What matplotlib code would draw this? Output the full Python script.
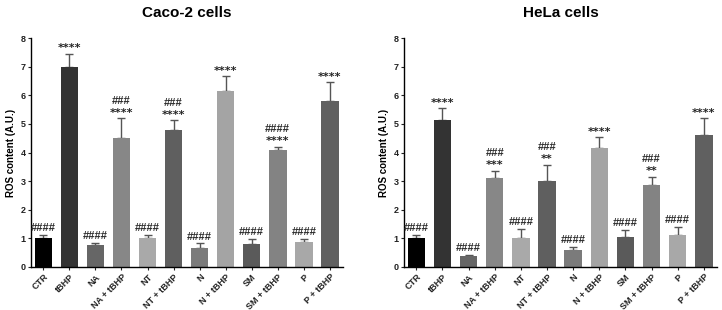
import matplotlib
matplotlib.use("Agg")
import matplotlib.pyplot as plt

plt.rcParams['font.family'] = ['Liberation Sans', 'DejaVu Sans']

categories = ["CTR", "tBHP", "NA", "NA + tBHP", "NT", "NT + tBHP", "N", "N + tBHP",
              "SM", "SM + tBHP", "P", "P + tBHP"]
colors = ["#000000", "#333333", "#666666", "#878787", "#a9a9a9", "#5f5f5f",
          "#7b7b7b", "#a4a4a4", "#5a5a5a", "#838383", "#a8a8a8", "#606060"]

caco_values = [1.0, 7.0, 0.75, 4.52, 1.02, 4.8, 0.65, 6.15, 0.8, 4.08, 0.88, 5.8]
caco_errors = [0.13, 0.45, 0.1, 0.68, 0.1, 0.32, 0.17, 0.52, 0.18, 0.13, 0.1, 0.65]
caco_hash = ["####", "", "####", "###", "####", "###", "####", "", "####", "####", "####", ""]
caco_star = ["", "****", "", "****", "", "****", "", "****", "", "****", "", "****"]

hela_values = [1.0, 5.15, 0.38, 3.12, 1.0, 3.0, 0.6, 4.15, 1.05, 2.85, 1.13, 4.6]
hela_errors = [0.12, 0.4, 0.03, 0.25, 0.32, 0.58, 0.1, 0.38, 0.25, 0.3, 0.27, 0.6]
hela_hash = ["####", "", "####", "###", "####", "###", "####", "", "####", "###", "####", ""]
hela_star = ["", "****", "", "***", "", "**", "", "****", "", "**", "", "****"]

fig = plt.figure(figsize=(7.22, 3.10), dpi=100)
ax1 = fig.add_axes([0.043, 0.139, 0.432, 0.738])
ax2 = fig.add_axes([0.5596, 0.139, 0.4334, 0.738])


def draw(ax, title, values, errors, hashes, stars):
    x = list(range(len(categories)))
    ax.bar(x, values, width=0.67, color=colors, zorder=2)
    ax.errorbar(x, values, yerr=[[0] * len(values), errors], fmt='none',
                ecolor='#555555', elinewidth=1.0, capsize=3, capthick=1.0, zorder=1)
    for i, (v, e) in enumerate(zip(values, errors)):
        top = v + e
        if stars[i]:
            ax.annotate(stars[i], (i, top), xytext=(0, 1.8), textcoords='offset points',
                        ha='center', va='baseline', fontsize=8, fontweight='bold',
                        family='DejaVu Sans', color='#222222')
            hoff = 10.5
        else:
            hoff = 2.8
        if hashes[i]:
            ax.annotate(hashes[i], (i, top), xytext=(0, hoff), textcoords='offset points',
                        ha='center', va='baseline', fontsize=8, fontweight='bold',
                        color='#2a2a2a')
    ax.set_xlim(-0.47, 11.5)
    ax.set_ylim(0, 8)
    ax.set_yticks(range(0, 9))
    ax.set_xticks(x)
    ax.set_xticklabels(categories, rotation=45, ha='right', rotation_mode='anchor',
                       fontsize=6.5, fontweight='bold')
    for lbl in ax.get_yticklabels():
        lbl.set_fontsize(6.5)
        lbl.set_fontweight('bold')
    ax.tick_params(axis='both', length=2.5, width=0.8, pad=1.5, colors='#222222')
    ax.set_ylabel("ROS content (A.U.)", fontsize=7, fontweight='bold', labelpad=3)
    ax.spines['top'].set_visible(False)
    ax.spines['right'].set_visible(False)
    ax.spines['left'].set_linewidth(1.0)
    ax.spines['bottom'].set_linewidth(1.0)
    ax.set_title(title, fontsize=11, fontweight='bold', pad=15)


draw(ax1, "Caco-2 cells", caco_values, caco_errors, caco_hash, caco_star)
draw(ax2, "HeLa cells", hela_values, hela_errors, hela_hash, hela_star)

fig.savefig("out.png", dpi=100)
